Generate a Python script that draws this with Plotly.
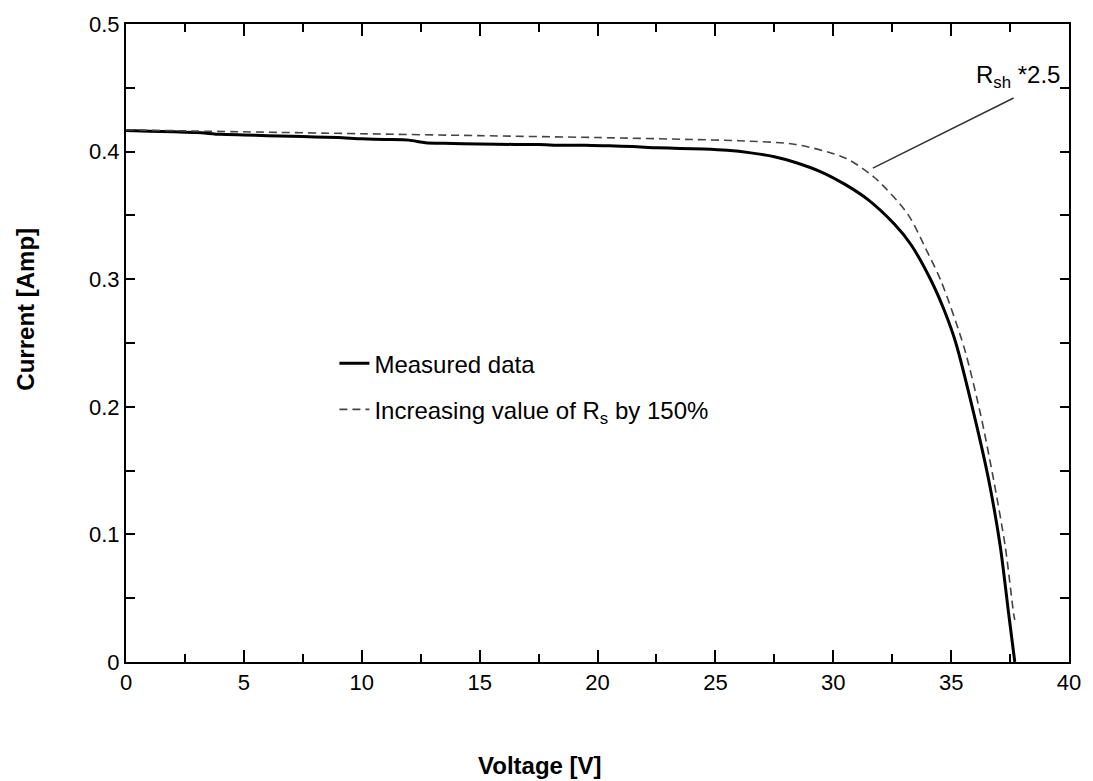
import plotly.graph_objects as go

# ---- data ----
measured_v = [0, 1, 2, 3, 4, 5, 6, 7, 8, 9, 10, 11, 12, 12.7, 13.5, 15, 16.5, 17.5, 18.5, 19.5,
              20.5, 21.5, 22.5, 23.5, 24.5, 25.5, 26.5, 27.5, 28.4, 29.5, 30.5, 31.5, 32.6, 33.3,
              34.15, 34.7, 35.2, 35.97, 36.6, 37.09, 37.44, 37.70]
measured_i = [0.4166, 0.416, 0.4155, 0.415, 0.4135, 0.413, 0.4125, 0.412, 0.4115, 0.411, 0.410,
              0.4095, 0.409, 0.407, 0.4065, 0.406, 0.4056, 0.4055, 0.405, 0.405, 0.4045, 0.404,
              0.403, 0.4025, 0.402, 0.401, 0.399, 0.396, 0.3915, 0.384, 0.3743, 0.362, 0.343,
              0.327, 0.299, 0.276, 0.250, 0.194, 0.142, 0.090, 0.038, 0.0]

rs_v = [0, 5, 10, 15, 20, 24, 26, 28.4, 30.5, 31.76, 33.16, 34.0, 34.57, 35.55, 36.25, 36.81,
        37.3, 37.65, 37.7]
rs_i = [0.417, 0.4155, 0.414, 0.4125, 0.411, 0.4095, 0.4085, 0.4056, 0.395, 0.3795, 0.351,
        0.321, 0.2987, 0.2465, 0.194, 0.142, 0.090, 0.038, 0.033]

x_ticks = [0, 5, 10, 15, 20, 25, 30, 35, 40]
y_ticks = [0, 0.1, 0.2, 0.3, 0.4, 0.5]

series_names = ["Measured data", "Increasing value of R<sub>s</sub> by 150%"]

# annotation (R_sh * 2.5) pointer: from curve to label
note_text = "R<sub>sh</sub> *2.5"
note_from = (31.68, 0.387)
note_to = (37.65, 0.442)
note_label = (37.82, 0.459)

FONT = "Liberation Sans, Arial, sans-serif"

fig = go.Figure()
fig.add_trace(go.Scatter(x=measured_v, y=measured_i, mode="lines", name=series_names[0],
                         legendgroup="a",
                         line=dict(color="black", width=3, shape="spline", smoothing=0.7)))
fig.add_trace(go.Scatter(x=rs_v, y=rs_i, mode="lines", name=series_names[1],
                         legendgroup="b",
                         line=dict(color="#444444", width=1.6, dash="8px,5px",
                                   shape="spline", smoothing=0.8)))

fig.add_shape(type="line", xref="x", yref="y",
              x0=note_from[0], y0=note_from[1], x1=note_to[0], y1=note_to[1],
              line=dict(color="#333333", width=1.5))
fig.add_annotation(x=note_label[0], y=note_label[1], xref="x", yref="y", text=note_text,
                   showarrow=False, font=dict(family=FONT, size=24, color="black"),
                   xanchor="center", yanchor="middle")

# axis titles as annotations (positioned as in reference)
fig.add_annotation(x=-0.1063, y=0.5535, xref="paper", yref="paper", text="<b>Current [Amp]</b>",
                   textangle=-90, showarrow=False, xanchor="center", yanchor="middle",
                   font=dict(family=FONT, size=24, color="black"))
fig.add_annotation(x=0.4386, y=-0.1617, xref="paper", yref="paper", text="<b>Voltage [V]</b>",
                   showarrow=False, xanchor="center", yanchor="middle",
                   font=dict(family=FONT, size=24, color="black"))

axis_common = dict(showgrid=False, zeroline=False, showline=True, linecolor="black", linewidth=2,
                   mirror="allticks", ticks="inside", tickcolor="black", tickwidth=2,
                   tickfont=dict(family=FONT, size=22, color="black"))

fig.update_xaxes(range=[0, 40], tickmode="array", tickvals=x_ticks, ticklen=12,
                 minor=dict(dtick=2.5, tick0=0, ticks="inside", ticklen=8, tickwidth=2,
                            tickcolor="black"),
                 **axis_common)
fig.update_yaxes(range=[0, 0.5], tickmode="array", tickvals=y_ticks,
                 ticktext=[str(v) if v != 0 else "0" for v in y_ticks], ticklen=9,
                 minor=dict(dtick=0.05, tick0=0, ticks="inside", ticklen=9, tickwidth=2,
                            tickcolor="black"),
                 **axis_common)

fig.update_layout(
    width=1093, height=781, autosize=False,
    margin=dict(l=126, r=17, t=23, b=119, pad=0),
    plot_bgcolor="white", paper_bgcolor="white",
    font=dict(family=FONT, size=22, color="black"),
    showlegend=True,
    legend=dict(x=0.221, y=0.503, xanchor="left", yanchor="top", bgcolor="rgba(0,0,0,0)",
                font=dict(family=FONT, size=24, color="black"), tracegroupgap=12),
)

fig.write_html("out.html")
